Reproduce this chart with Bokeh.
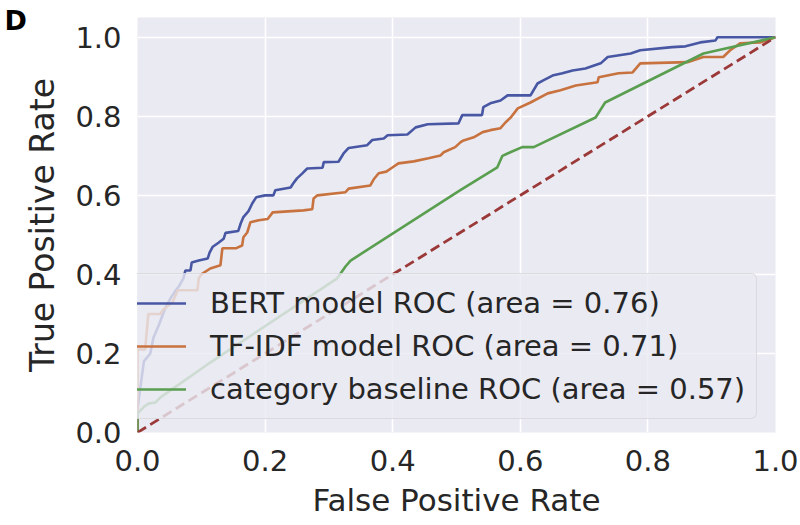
from bokeh.plotting import figure
from bokeh.models import Legend, LegendItem, FixedTicker, Range1d
from bokeh.embed import file_html
from bokeh.resources import INLINE

# ---------------- data ----------------
bert_fpr = [0.0, 0.0, 0.005, 0.01, 0.02, 0.025, 0.033, 0.04, 0.045, 0.052, 0.06, 0.065, 0.072,
            0.075, 0.083, 0.085, 0.096, 0.11, 0.113, 0.118, 0.127, 0.135, 0.138, 0.158, 0.162,
            0.166, 0.174, 0.18, 0.186, 0.2, 0.213, 0.216, 0.24, 0.244, 0.25, 0.258, 0.266, 0.29,
            0.292, 0.315, 0.323, 0.331, 0.36, 0.368, 0.386, 0.392, 0.423, 0.436, 0.455, 0.503,
            0.509, 0.54, 0.542, 0.553, 0.569, 0.58, 0.616, 0.627, 0.636, 0.652, 0.666, 0.682,
            0.702, 0.726, 0.737, 0.773, 0.788, 0.838, 0.859, 0.882, 0.906, 0.909, 1.0]
bert_tpr = [0.0, 0.06, 0.12, 0.18, 0.2, 0.24, 0.27, 0.3, 0.32, 0.34, 0.36, 0.37, 0.39,
            0.41, 0.41, 0.43, 0.435, 0.44, 0.455, 0.47, 0.48, 0.49, 0.505, 0.51, 0.53,
            0.545, 0.56, 0.58, 0.595, 0.6, 0.6, 0.613, 0.62, 0.63, 0.643, 0.655, 0.668, 0.67,
            0.684, 0.685, 0.706, 0.72, 0.727, 0.74, 0.744, 0.752, 0.754, 0.772, 0.78, 0.782,
            0.803, 0.803, 0.823, 0.833, 0.84, 0.853, 0.853, 0.883, 0.891, 0.904, 0.909, 0.916,
            0.921, 0.934, 0.95, 0.959, 0.967, 0.975, 0.977, 0.987, 0.992, 1.0, 1.0]

tfidf_fpr = [0.0, 0.0, 0.005, 0.012, 0.017, 0.036, 0.04, 0.055, 0.063, 0.094, 0.096, 0.1,
             0.114, 0.13, 0.133, 0.154, 0.164, 0.166, 0.172, 0.177, 0.19, 0.204, 0.212, 0.26,
             0.274, 0.276, 0.282, 0.326, 0.331, 0.365, 0.37, 0.378, 0.39, 0.4, 0.409, 0.433,
             0.456, 0.475, 0.48, 0.498, 0.506, 0.511, 0.527, 0.541, 0.553, 0.569, 0.577, 0.585,
             0.596, 0.616, 0.643, 0.663, 0.687, 0.721, 0.723, 0.754, 0.776, 0.788, 0.862, 0.887,
             0.918, 0.929, 0.945, 0.976, 1.0]
tfidf_tpr = [0.0, 0.21, 0.21, 0.21, 0.30, 0.30, 0.31, 0.33, 0.36, 0.36, 0.39, 0.40,
             0.415, 0.423, 0.466, 0.466, 0.473, 0.494, 0.506, 0.532, 0.537, 0.54, 0.557, 0.562,
             0.565, 0.592, 0.60, 0.608, 0.617, 0.625, 0.64, 0.656, 0.66, 0.671, 0.681, 0.686,
             0.694, 0.701, 0.709, 0.722, 0.734, 0.739, 0.747, 0.76, 0.765, 0.77, 0.785, 0.797,
             0.82, 0.835, 0.858, 0.866, 0.878, 0.886, 0.899, 0.909, 0.911, 0.934, 0.937, 0.95,
             0.95, 0.967, 0.985, 0.987, 1.0]

base_fpr = [0.0, 0.0, 0.01, 0.017, 0.028, 0.036, 0.114, 0.313, 0.326, 0.334, 0.506, 0.564,
            0.572, 0.58, 0.603, 0.621, 0.718, 0.733, 0.887, 1.0]
base_tpr = [0.0, 0.048, 0.065, 0.073, 0.076, 0.089, 0.177, 0.39, 0.42, 0.435, 0.613, 0.671,
            0.70, 0.706, 0.722, 0.722, 0.797, 0.835, 0.959, 1.0]

chance_x = [0.0, 1.0]
chance_y = [0.0, 1.0]

labels = ["BERT model ROC (area = 0.76)",
          "TF-IDF model ROC (area = 0.71)",
          "category baseline ROC (area = 0.57)"]
ticks = [0.0, 0.2, 0.4, 0.6, 0.8, 1.0]
tick_labels = ["0.0", "0.2", "0.4", "0.6", "0.8", "1.0"]
panel_letter = "D"

# ---------------- figure ----------------
FONT = "DejaVu Sans"
TXT = "#262626"

p = figure(width=800, height=525, output_backend="svg", toolbar_location=None,
           x_range=Range1d(0, 1), y_range=Range1d(0, 1.05),
           min_border_left=137, min_border_right=25, min_border_top=17, min_border_bottom=93)
p.background_fill_color = "#EAEAF2"
p.border_fill_color = "white"
p.outline_line_color = None

# panel letter as a title pulled to the top-left corner
p.title.text = panel_letter
p.title.align = "left"
p.title.vertical_align = "bottom"
p.title.offset = -133
p.title.standoff = -36
p.title.text_font = FONT
p.title.text_font_size = "27px"
p.title.text_font_style = "bold"
p.title.text_color = "black"

for ax in (p.xaxis[0], p.yaxis[0]):
    ax.ticker = FixedTicker(ticks=ticks)
    ax.major_label_overrides = {t: l for t, l in zip(ticks, tick_labels)}
    ax.axis_line_color = None
    ax.major_tick_line_color = None
    ax.minor_tick_line_color = None
    ax.major_tick_out = 0
    ax.major_tick_in = 0
    ax.major_label_text_font = FONT
    ax.major_label_text_font_size = "29px"
    ax.major_label_text_color = TXT
    ax.axis_label_text_font = FONT
    ax.axis_label_text_font_style = "normal"
    ax.axis_label_text_color = TXT

p.xaxis.axis_label = "False Positive Rate"
p.yaxis.axis_label = "True Positive Rate"
p.xaxis.axis_label_text_font_size = "31px"
p.yaxis.axis_label_text_font_size = "33px"
p.xaxis.major_label_standoff = 17
p.yaxis.major_label_standoff = 16
p.xaxis.axis_label_standoff = 8
p.yaxis.axis_label_standoff = 10

for g in (p.xgrid[0], p.ygrid[0]):
    g.ticker = FixedTicker(ticks=ticks)
    g.grid_line_color = "white"
    g.grid_line_width = 1.6

r_bert = p.line(bert_fpr, bert_tpr, line_color="#4857A4", line_width=2.6)
r_tfidf = p.line(tfidf_fpr, tfidf_tpr, line_color="#C8733F", line_width=2.6)
r_base = p.line(base_fpr, base_tpr, line_color="#5A9E50", line_width=2.6)
p.line(chance_x, chance_y, line_color="#9B3838", line_width=2.8, line_dash="10 5")

legend = Legend(items=[LegendItem(label=labels[0], renderers=[r_bert]),
                       LegendItem(label=labels[1], renderers=[r_tfidf]),
                       LegendItem(label=labels[2], renderers=[r_base])],
                location=(-24, 13))
legend.label_text_font = FONT
legend.label_text_font_size = "29px"
legend.label_text_color = TXT
legend.glyph_width = 61
legend.glyph_height = 36
legend.label_standoff = 24
legend.padding = 11
legend.spacing = 7
legend.margin = 0
legend.background_fill_color = "#EAEAF2"
legend.background_fill_alpha = 0.8
legend.border_line_color = "#CCCCCC"
legend.border_line_width = 1.5
legend.border_radius = 6
p.add_layout(legend, "center")

open("out.html", "w").write(file_html(p, INLINE))
